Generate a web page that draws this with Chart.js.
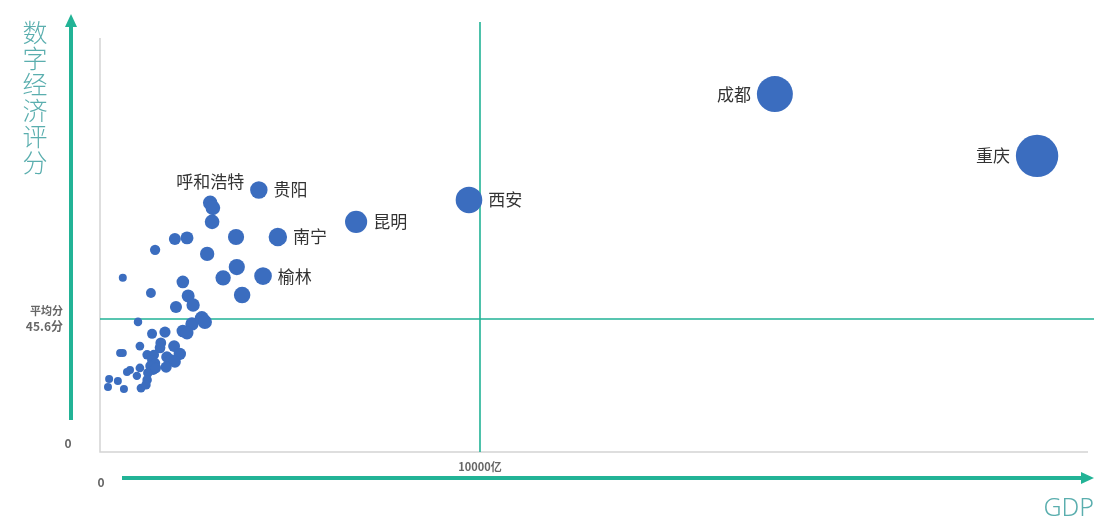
<!DOCTYPE html>
<html>
<head>
<meta charset="utf-8">
<script src="https://cdn.jsdelivr.net/npm/chart.js@4/dist/chart.umd.min.js"></script>
<style>
  html, body { margin: 0; padding: 0; background: #fff; overflow: hidden; }
  #wrap { width: 1094px; height: 522px; position: relative; }
  canvas { display: block; }
</style>
</head>
<body>
<div id="wrap"><canvas id="bubbleChart"></canvas></div>
<script>
// 城市名(只标注主要城市), GDP(亿元), 数字经济评分
const cities = ['重庆', '成都', '西安', '昆明', '贵阳', '南宁', '榆林', '呼和浩特',
    '', '', '', '', '', '', '', '', '', '', '', '', '', '', '', '', '', '', '', '',
    '', '', '', '', '', '', '', '', '', '', '', '', '', '', '', '', '', '', '', '',
    '', '', '', '', '', '', '', '', '', '', '', '', ''];
const gdp = [24660, 17760, 9710, 6740, 4180, 4680, 4290, 2900,
    2970, 2950, 3580, 1970, 2290, 1450, 2820, 3600, 3240, 600, 2180, 1340, 2320, 3740,
    2000, 2450, 1000, 2420, 2680, 2760, 1370, 1710, 2180, 2290, 1600, 1580, 1050, 1950,
    530, 600, 1240, 1420, 1760, 1870, 2100, 1970, 1370, 1450, 1320, 1400, 1260, 1470,
    790, 710, 1050, 1740, 240, 470, 210, 630, 1080, 970, 1240, 1210];
const score = [101.5, 122.7, 86.4, 78.9, 89.8, 73.7, 60.3, 85.4,
    83.7, 78.9, 73.7, 73.0, 73.4, 69.3, 67.9, 63.4, 59.7, 59.7, 58.3, 54.5, 53.5, 53.8,
    49.7, 50.4, 44.6, 43.9, 45.9, 44.6, 40.5, 41.1, 41.5, 40.8, 37.4, 35.7, 36.3, 36.3,
    33.9, 33.9, 33.3, 33.3, 32.6, 31.5, 33.6, 30.9, 31.5, 30.5, 29.5, 28.1, 27.1, 28.8,
    28.1, 27.4, 28.8, 29.1, 25.0, 24.3, 22.3, 21.6, 21.9, 26.1, 24.7, 23.0];
const avgScore = 45.6;   // 平均分
const gdpMark = 10000;   // 10000亿

const teal = '#22b396';
const titleColor = '#5aaeae';
const tickColor = '#666666';

// 标签位置: 气泡的左/右/上
const labelSide = { '重庆': 'left', '成都': 'left', '呼和浩特': 'top' };

const points = gdp.map((g, i) => ({
    x: g,
    y: score[i],
    r: Math.max(4, 0.135 * Math.sqrt(g))
}));

function arrow(ctx, x1, y1, x2, y2) {
    const ang = Math.atan2(y2 - y1, x2 - x1);
    const head = 13;
    ctx.strokeStyle = teal;
    ctx.fillStyle = teal;
    ctx.lineWidth = 4;
    ctx.beginPath();
    ctx.moveTo(x1, y1);
    ctx.lineTo(x2 - Math.cos(ang) * head * 0.8, y2 - Math.sin(ang) * head * 0.8);
    ctx.stroke();
    ctx.beginPath();
    ctx.moveTo(x2, y2);
    ctx.lineTo(x2 - Math.cos(ang) * head - Math.sin(ang) * 6, y2 - Math.sin(ang) * head + Math.cos(ang) * 6);
    ctx.lineTo(x2 - Math.cos(ang) * head + Math.sin(ang) * 6, y2 - Math.sin(ang) * head - Math.cos(ang) * 6);
    ctx.closePath();
    ctx.fill();
}

const quadrantLines = {
    id: 'quadrantLines',
    beforeDatasetsDraw(chart) {
        const { ctx, chartArea, scales } = chart;
        const x0 = scales.x.getPixelForValue(0);
        const y0 = scales.y.getPixelForValue(0);
        ctx.save();
        // 灰色坐标框
        ctx.strokeStyle = '#d4d4d4';
        ctx.lineWidth = 1.5;
        ctx.beginPath();
        ctx.moveTo(x0, chartArea.top + 16);
        ctx.lineTo(x0, y0);
        ctx.lineTo(chartArea.right - 6, y0);
        ctx.stroke();
        // 平均分 / 10000亿 分界线
        const xm = scales.x.getPixelForValue(gdpMark);
        const ym = scales.y.getPixelForValue(avgScore);
        ctx.strokeStyle = teal;
        ctx.lineWidth = 1.6;
        ctx.beginPath();
        ctx.moveTo(xm, chartArea.top);
        ctx.lineTo(xm, y0);
        ctx.moveTo(x0, ym);
        ctx.lineTo(chartArea.right, ym);
        ctx.stroke();
        ctx.restore();
    },
    afterDraw(chart) {
        const { ctx, chartArea, scales } = chart;
        const x0 = scales.x.getPixelForValue(0);
        const y0 = scales.y.getPixelForValue(0);
        const xm = scales.x.getPixelForValue(gdpMark);
        const ym = scales.y.getPixelForValue(avgScore);
        ctx.save();

        // 城市标签
        const meta = chart.getDatasetMeta(0);
        ctx.font = '17px "Noto Sans CJK SC", sans-serif';
        ctx.fillStyle = '#333333';
        ctx.textBaseline = 'middle';
        cities.forEach((name, i) => {
            if (!name) return;
            const el = meta.data[i];
            const r = points[i].r;
            const side = labelSide[name] || 'right';
            if (side === 'left') {
                ctx.textAlign = 'right';
                ctx.fillText(name, el.x - r - 6, el.y);
            } else if (side === 'top') {
                ctx.textAlign = 'center';
                ctx.fillText(name, el.x, el.y - r - 14);
            } else {
                ctx.textAlign = 'left';
                ctx.fillText(name, el.x + r + 6, el.y);
            }
        });

        // 坐标箭头
        arrow(ctx, 71, y0 - 32, 71, 14);
        arrow(ctx, x0 + 22, y0 + 26, chartArea.right, y0 + 26);

        // 轴标题
        ctx.fillStyle = titleColor;
        ctx.font = '300 25px "Noto Sans CJK SC", sans-serif';
        ctx.textAlign = 'center';
        ctx.textBaseline = 'middle';
        '数字经济评分'.split('').forEach((ch, k) => {
            ctx.fillText(ch, 35, 32 + k * 26);
        });
        ctx.font = '300 25px "Noto Sans", sans-serif';
        ctx.textAlign = 'right';
        ctx.fillText('GDP', chartArea.right, 509);

        // 刻度文字
        ctx.fillStyle = tickColor;
        ctx.font = 'bold 12px "Noto Sans CJK SC", sans-serif';
        ctx.textAlign = 'center';
        ctx.fillText('0', 68, y0 - 9);
        ctx.fillText('0', x0 + 1, y0 + 30);
        ctx.font = 'bold 11px "Noto Sans CJK SC", sans-serif';
        ctx.fillText('10000亿', xm, y0 + 15);
        ctx.textAlign = 'right';
        ctx.fillText('平均分', 63, ym - 8);
        ctx.font = 'bold 12px "Noto Sans CJK SC", sans-serif';
        ctx.fillText('45.6分', 63, ym + 7);
        ctx.restore();
    }
};

new Chart(document.getElementById('bubbleChart').getContext('2d'), {
    type: 'bubble',
    data: {
        datasets: [{
            label: '数字经济评分',
            data: points,
            backgroundColor: '#3b6dbf',
            borderWidth: 0,
            hoverBorderWidth: 0
        }]
    },
    options: {
        responsive: true,
        maintainAspectRatio: false,
        animation: false,
        clip: false,
        layout: { autoPadding: false, padding: { left: 100, right: 0, top: 22, bottom: 70 } },
        plugins: {
            legend: { display: false },
            tooltip: { enabled: false }
        },
        scales: {
            x: { type: 'linear', display: false, min: 0, max: 26158 },
            y: { type: 'linear', display: false, min: 0, max: 147.4 }
        }
    },
    plugins: [quadrantLines]
});
</script>
</body>
</html>
